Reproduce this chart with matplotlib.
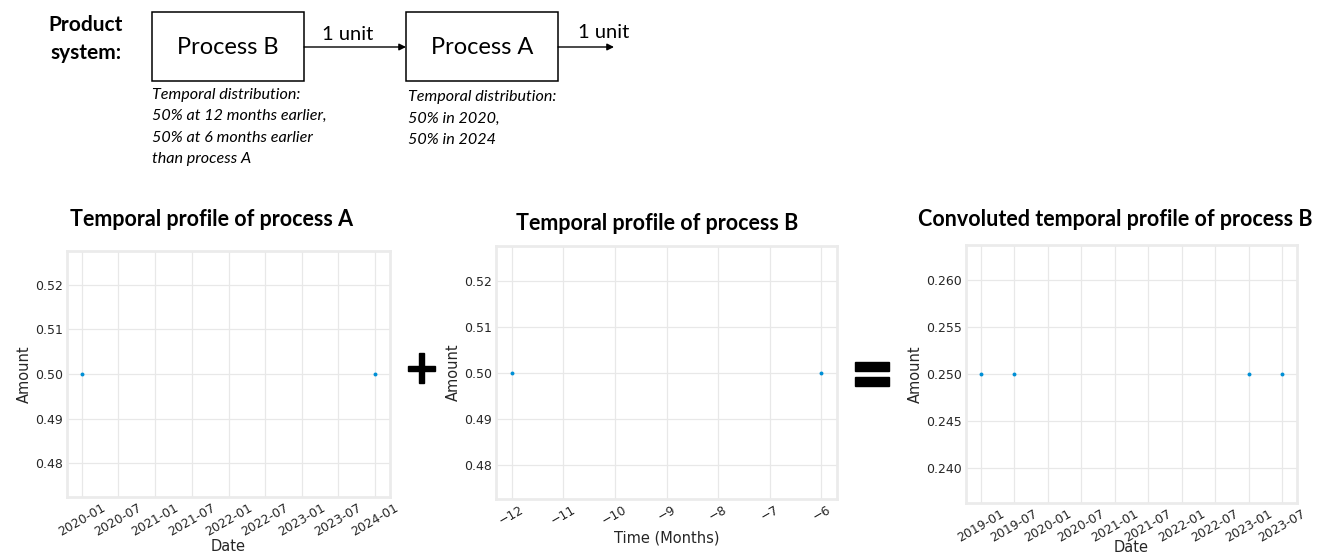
import matplotlib
matplotlib.use("Agg")
import matplotlib.pyplot as plt
import matplotlib.dates as mdates
from matplotlib.patches import Rectangle
import pandas as pd

# ---------------- data ----------------
dates_A = ["2020-01-01", "2024-01-01"]
amounts_A = [0.5, 0.5]

months_B = [-12, -6]
amounts_B = [0.5, 0.5]

dates_C = ["2019-01-01", "2019-07-01", "2023-01-01", "2023-07-01"]
amounts_C = [0.25, 0.25, 0.25, 0.25]

titles = ["Temporal profile of process A",
          "Temporal profile of process B",
          "Convoluted temporal profile of process B"]

W, H = 1321, 560
DOT = "#008fd5"
GRID = "#e8e8e8"
TXT = "#262626"
DIAG_FONT = "Lato"

fig = plt.figure(figsize=(W / 100, H / 100), dpi=100)
fig.patch.set_facecolor("white")


def rect(l, t, r, b):
    return [l / W, 1 - b / H, (r - l) / W, (b - t) / H]


def style(ax):
    ax.set_facecolor("white")
    ax.grid(True, color=GRID, lw=0.9)
    ax.set_axisbelow(True)
    for s in ax.spines.values():
        s.set_color("#ebebeb")
        s.set_linewidth(2.0)
    ax.tick_params(length=0, pad=3, labelsize=9, labelcolor=TXT)
    ax.tick_params(axis="x", labelrotation=30)


# ---------------- plot A ----------------
axA = fig.add_axes(rect(67, 251, 390, 497))
axA.scatter(pd.to_datetime(dates_A), amounts_A, s=8, color=DOT, zorder=3, linewidths=0)
axA.xaxis.set_major_locator(mdates.MonthLocator(bymonth=[1, 7]))
axA.xaxis.set_major_formatter(mdates.DateFormatter("%Y-%m"))
axA.set_ylim(0.4725, 0.5275)
axA.set_yticks([0.48, 0.49, 0.50, 0.51, 0.52])
axA.set_xlabel("Date", fontsize=10.5, color=TXT, labelpad=0)
axA.set_ylabel("Amount", fontsize=10.5, color=TXT, labelpad=2)
style(axA)

# ---------------- plot B ----------------
axB = fig.add_axes(rect(496, 246, 837, 499))
axB.scatter(months_B, amounts_B, s=8, color=DOT, zorder=3, linewidths=0)
axB.set_ylim(0.4725, 0.5275)
axB.set_yticks([0.48, 0.49, 0.50, 0.51, 0.52])
axB.set_xticks(range(-12, -5))
axB.set_xlabel("Time (Months)", fontsize=10.5, color=TXT, labelpad=2)
axB.set_ylabel("Amount", fontsize=10.5, color=TXT, labelpad=2)
style(axB)

# ---------------- plot C ----------------
axC = fig.add_axes(rect(966, 245, 1297, 503))
axC.scatter(pd.to_datetime(dates_C), amounts_C, s=8, color=DOT, zorder=3, linewidths=0)
axC.xaxis.set_major_locator(mdates.MonthLocator(bymonth=[1, 7]))
axC.xaxis.set_major_formatter(mdates.DateFormatter("%Y-%m"))
axC.set_ylim(0.23625, 0.26375)
axC.set_yticks([0.240, 0.245, 0.250, 0.255, 0.260])
axC.yaxis.set_major_formatter(matplotlib.ticker.FormatStrFormatter("%.3f"))
axC.set_xlabel("Date", fontsize=10.5, color=TXT, labelpad=-3)
axC.set_ylabel("Amount", fontsize=10.5, color=TXT, labelpad=2)
style(axC)

# ---------------- overlay for diagram / titles ----------------
ov = fig.add_axes([0, 0, 1, 1], zorder=10)
ov.set_xlim(0, W)
ov.set_ylim(H, 0)
ov.axis("off")
ov.patch.set_visible(False)

# titles
for cx, cy, t in [(212, 220, titles[0]), (657, 223, titles[1]), (1115, 220, titles[2])]:
    ov.text(cx, cy, t, ha="center", va="center", fontsize=15.5,
            fontweight="bold", family=DIAG_FONT, color="black")

# plus sign and equals sign
ov.add_patch(Rectangle((408, 366), 27, 5, color="black"))
ov.add_patch(Rectangle((419, 353), 5, 30, color="black"))
ov.add_patch(Rectangle((855, 362), 34, 9, color="black"))
ov.add_patch(Rectangle((855, 377), 34, 9, color="black"))

# product system diagram
ov.text(86, 25, "Product", ha="center", va="center", fontsize=15,
        fontweight="bold", family=DIAG_FONT)
ov.text(86, 53, "system:", ha="center", va="center", fontsize=15,
        fontweight="bold", family=DIAG_FONT)

ov.add_patch(Rectangle((152, 12), 152, 69, fill=False, lw=1.1, ec="black"))
ov.add_patch(Rectangle((406, 12), 152, 69, fill=False, lw=1.1, ec="black"))
ov.text(228, 47, "Process B", ha="center", va="center", fontsize=17, family=DIAG_FONT)
ov.text(482, 47, "Process A", ha="center", va="center", fontsize=17, family=DIAG_FONT)

ov.annotate("", xy=(406, 47), xytext=(304, 47),
            arrowprops=dict(arrowstyle="-|>", lw=1.0, color="black",
                            mutation_scale=10, shrinkA=0, shrinkB=0))
ov.annotate("", xy=(614, 47), xytext=(558, 47),
            arrowprops=dict(arrowstyle="-|>", lw=1.0, color="black",
                            mutation_scale=10, shrinkA=0, shrinkB=0))
ov.text(348, 35, "1 unit", ha="center", va="center", fontsize=14.5, family=DIAG_FONT)
ov.text(604, 33, "1 unit", ha="center", va="center", fontsize=14.5, family=DIAG_FONT)

linesB = ["Temporal distribution:", "50% at 12 months earlier,",
          "50% at 6 months earlier", "than process A"]
for i, s in enumerate(linesB):
    ov.text(152, 95 + 21.3 * i, s, ha="left", va="center", fontsize=11.6,
            style="italic", family=DIAG_FONT)
linesA = ["Temporal distribution:", "50% in 2020,", "50% in 2024"]
for i, s in enumerate(linesA):
    ov.text(408, 97 + 21.5 * i, s, ha="left", va="center", fontsize=11.6,
            style="italic", family=DIAG_FONT)

fig.savefig("out.png", dpi=100, facecolor="white")
